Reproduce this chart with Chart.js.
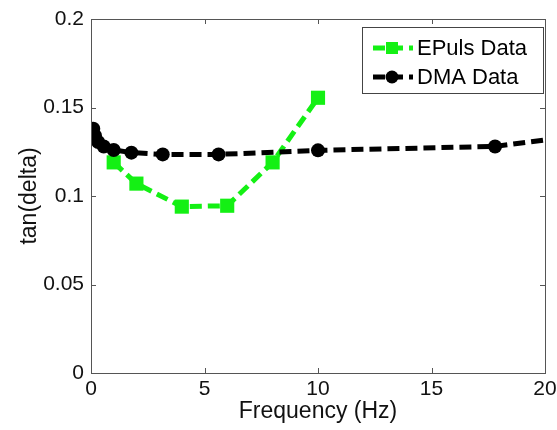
<!DOCTYPE html>
<html>
<head>
<meta charset="utf-8">
<script src="https://cdn.jsdelivr.net/npm/chart.js@4/dist/chart.umd.min.js"></script>
<style>
html,body{margin:0;padding:0;background:#fff;}
#wrap{width:557px;height:430px;position:relative;}
</style>
</head>
<body>
<div id="wrap"><canvas id="c" width="557" height="430"></canvas></div>
<script>
// Data
const eplusFreq = [1, 2, 4, 6, 8, 10];
const eplusTan  = [0.119, 0.107, 0.094, 0.0945, 0.119, 0.1555];
const dmaFreq = [0.1, 0.178, 0.316, 0.562, 1, 1.78, 3.16, 5.62, 10, 17.8, 31.6];
const dmaTan  = [0.138, 0.134, 0.1305, 0.128, 0.126, 0.1245, 0.1235, 0.1235, 0.1258, 0.128, 0.151];
const xTicks = [0, 5, 10, 15, 20];
const yTicks = [0, 0.05, 0.1, 0.15, 0.2];
const seriesNames = ['EPuls Data', 'DMA Data'];

const FONT = '"Liberation Sans", Arial, sans-serif';
const GREEN = '#14f014';
const BLACK = '#000000';

const toPts = (xs, ys) => xs.map((x, i) => ({x: x, y: ys[i]}));

const boxPlugin = {
  id: 'matlabBox',
  afterDatasetsDraw(chart) {
    const {ctx, chartArea: a, scales} = chart;
    ctx.save();
    ctx.strokeStyle = '#555';
    ctx.lineWidth = 1;
    ctx.strokeRect(a.left + 0.5, a.top + 0.5, a.right - a.left, a.bottom - a.top);
    const tl = 5;
    ctx.beginPath();
    xTicks.forEach(v => {
      const px = Math.round(scales.x.getPixelForValue(v)) + 0.5;
      ctx.moveTo(px, a.bottom); ctx.lineTo(px, a.bottom - tl);
      ctx.moveTo(px, a.top); ctx.lineTo(px, a.top + tl);
    });
    yTicks.forEach(v => {
      const py = Math.round(scales.y.getPixelForValue(v)) + 0.5;
      ctx.moveTo(a.left, py); ctx.lineTo(a.left + tl, py);
      ctx.moveTo(a.right, py); ctx.lineTo(a.right - tl, py);
    });
    ctx.stroke();

    // legend box
    const lx = 362, ly = 27, lw = 181, lh = 66;
    ctx.fillStyle = '#fff';
    ctx.fillRect(lx, ly, lw, lh);
    ctx.strokeStyle = '#444';
    ctx.strokeRect(lx + 0.5, ly + 0.5, lw, lh);
    const ds = chart.data.datasets;
    const rows = [ly + 21, ly + 50];
    ds.forEach((d, i) => {
      const y = rows[i];
      ctx.save();
      ctx.strokeStyle = d.borderColor;
      ctx.lineWidth = d.borderWidth;
      ctx.setLineDash([12, 6]);
      ctx.beginPath();
      ctx.moveTo(373, y); ctx.lineTo(413, y);
      ctx.stroke();
      ctx.restore();
      ctx.fillStyle = d.pointBackgroundColor;
      if (d.pointStyle === 'rect') {
        ctx.fillRect(392 - 6, y - 6, 12, 12);
      } else {
        ctx.beginPath(); ctx.arc(392, y, 6.5, 0, Math.PI * 2); ctx.fill();
      }
      ctx.fillStyle = '#000';
      ctx.font = '22px ' + FONT;
      ctx.textBaseline = 'middle';
      ctx.textAlign = 'left';
      ctx.fillText(d.label, 417, y + 1);
    });
    ctx.restore();
  }
};

new Chart(document.getElementById('c'), {
  type: 'scatter',
  data: {
    datasets: [
      {
        label: seriesNames[0],
        data: toPts(eplusFreq, eplusTan),
        showLine: true,
        borderColor: GREEN,
        backgroundColor: GREEN,
        pointBackgroundColor: GREEN,
        pointBorderColor: GREEN,
        borderWidth: 5,
        borderDash: [12, 6],
        pointStyle: 'rect',
        pointRadius: 10,
        pointBorderWidth: 0,
        order: 1
      },
      {
        label: seriesNames[1],
        data: toPts(dmaFreq, dmaTan),
        showLine: true,
        borderColor: BLACK,
        backgroundColor: BLACK,
        pointBackgroundColor: BLACK,
        pointBorderColor: BLACK,
        borderWidth: 5,
        borderDash: [12, 6],
        pointStyle: 'circle',
        pointRadius: 7,
        pointBorderWidth: 0,
        order: 0
      }
    ]
  },
  options: {
    responsive: false,
    animation: false,
    events: [],
    layout: {padding: {top: 19, right: 12, left: 0, bottom: 0}},
    plugins: {legend: {display: false}, tooltip: {enabled: false}},
    scales: {
      x: {
        type: 'linear',
        min: 0, max: 20,
        afterBuildTicks: s => { s.ticks = xTicks.map(v => ({value: v})); },
        afterFit: s => { s.height = 57; s.paddingLeft = 0; s.paddingRight = 0; },
        grid: {display: false, drawTicks: false},
        border: {display: false},
        ticks: {color: '#111', font: {family: FONT, size: 21}, padding: 4},
        title: {display: true, text: 'Frequency (Hz)', color: '#111', font: {family: FONT, size: 23}, padding: {top: 5, bottom: 5}}
      },
      y: {
        type: 'linear',
        min: 0, max: 0.2,
        afterBuildTicks: s => { s.ticks = yTicks.map(v => ({value: v})); },
        afterFit: s => { s.width = 91; s.paddingTop = 0; s.paddingBottom = 0; },
        grid: {display: false, drawTicks: false},
        border: {display: false},
        ticks: {color: '#111', font: {family: FONT, size: 21}, padding: 7,
          callback: v => String(+v.toFixed(2))},
        title: {display: true, text: 'tan(delta)', color: '#111', font: {family: FONT, size: 23}, padding: {top: 16, bottom: 12}}
      }
    }
  },
  plugins: [boxPlugin]
});
</script>
</body>
</html>
